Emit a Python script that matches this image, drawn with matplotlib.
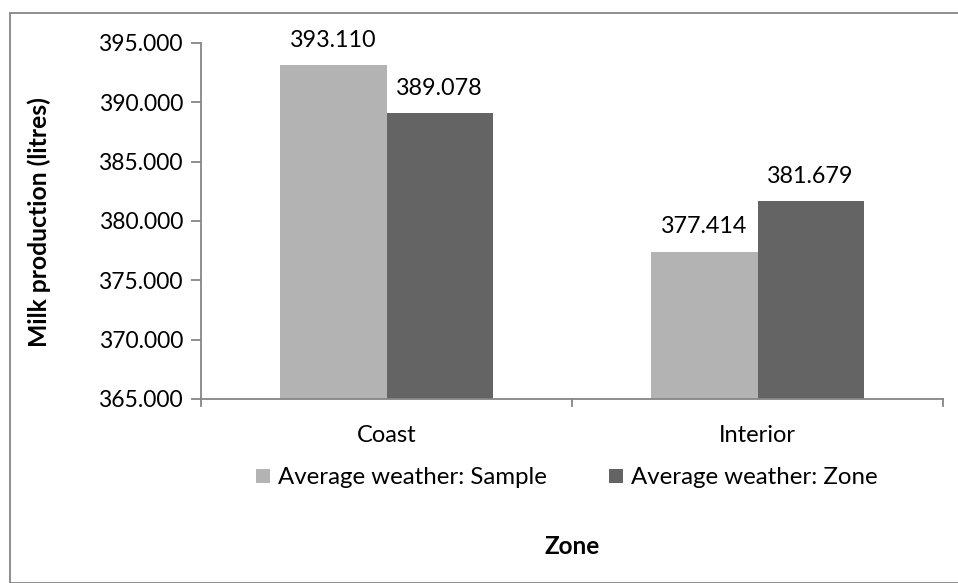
import numpy as np
import matplotlib.pyplot as plt
from matplotlib.patches import Rectangle

plt.rcParams['font.family'] = ['Lato', 'DejaVu Sans']

zones = ["Coast", "Interior"]
sample = [393.110, 377.414]
zone_avg = [389.078, 381.679]
series_names = ["Average weather: Sample", "Average weather: Zone"]
yticks = [365, 370, 375, 380, 385, 390, 395]

light = "#b3b3b3"
dark = "#646464"
axis_grey = "#868686"

fig = plt.figure(figsize=(9.58, 5.83), dpi=100)
# axes box in pixels: left 201, right 943, top 43, bottom 399
ax = fig.add_axes([201/958, 1 - 399/583, (943-201)/958, (399-43)/583])

x = np.arange(len(zones))
w = 0.286
b1 = ax.bar(x - w/2, np.array(sample) - 365, w, bottom=365, color=light)
b2 = ax.bar(x + w/2, np.array(zone_avg) - 365, w, bottom=365, color=dark)

for xi, v in zip(x - w/2, sample):
    ax.text(xi, v + 1.2, f"{v:.3f}", ha="center", va="bottom", fontsize=16.8)
for xi, v in zip(x + w/2, zone_avg):
    ax.text(xi, v + 1.2, f"{v:.3f}", ha="center", va="bottom", fontsize=16.8)

ax.set_xlim(-0.5, 1.5)
ax.set_ylim(365, 395)
ax.set_yticks(yticks)
ax.set_yticklabels([f"{t:.3f}" for t in yticks], fontsize=16.5)
ax.set_xticks(x)
ax.set_xticklabels(zones, fontsize=17)
ax.tick_params(axis="x", length=0, pad=19)
ax.tick_params(axis="y", length=7, color=axis_grey, width=1.3, pad=6)
# category separators on the x axis
for xs in [-0.5, 0.5, 1.5]:
    ax.plot([xs, xs], [0, -0.02], transform=ax.get_xaxis_transform(),
            color=axis_grey, lw=1.3, clip_on=False)

for s in ["top", "right"]:
    ax.spines[s].set_visible(False)
for s in ["left", "bottom"]:
    ax.spines[s].set_color(axis_grey)
    ax.spines[s].set_linewidth(1.3)

ax.set_ylabel("Milk production (litres)", fontsize=17.8, fontweight="bold")
ax.yaxis.set_label_coords((51 - 201)/(943 - 201), (399 - 222)/(399 - 43))
fig.text((201+943)/2/958, 1 - 546/583, "Zone", ha="center", va="center",
         fontsize=17.5, fontweight="bold")

fig.legend([b1, b2], series_names, loc="center", bbox_to_anchor=(567/958, 1 - 478/583),
           ncol=2, frameon=False, fontsize=17.3, handlelength=0.55, handleheight=0.55,
           handletextpad=0.35, columnspacing=2.6)

# outer chart border
fig.patches.append(Rectangle((10/958, 0), 1.2, 1 - 13/583, transform=fig.transFigure,
                             fill=False, edgecolor=axis_grey, lw=1.3))

fig.savefig("out.png", dpi=100)
